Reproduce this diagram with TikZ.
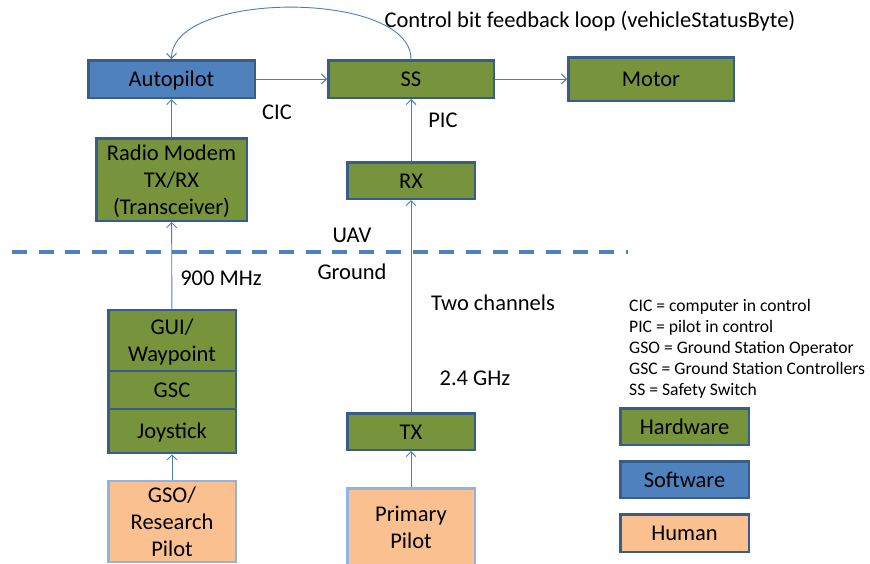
\documentclass[tikz,border=0pt]{standalone}
\usepackage{fontspec}
\setmainfont{Carlito}
\usetikzlibrary{arrows.meta}

\definecolor{hwgreen}{HTML}{77933C}
\definecolor{swblue}{HTML}{4F81BD}
\definecolor{humanorange}{HTML}{FAC090}
\definecolor{edgeblue}{HTML}{385D8A}
\definecolor{paleedge}{HTML}{8EB4E3}
\definecolor{linkblue}{HTML}{4A7EBB}

% struts giving each text block the font's full ascent and descent
\newcommand\asc{\rule{0pt}{21.4pt}}
\newcommand\dsc{\rule[-6.05pt]{0pt}{0pt}}

\tikzset{
  box/.style={draw=edgeblue, line width=2.5pt, inner sep=0pt, align=center,
    font=\fontsize{22.5}{27}\selectfont},
  hw/.style={box, fill=hwgreen},
  sw/.style={box, fill=swblue},
  human/.style={box, fill=humanorange},
  humanpale/.style={human, draw=paleedge},
  conn/.style={draw=linkblue, line width=0.9pt,
    -{Straight Barb[length=5pt,width=10pt,line width=0.9pt]}},
  lbl/.style={inner sep=0pt, font=\fontsize{22.5}{27}\selectfont},
  keytext/.style={inner sep=0pt, align=left, anchor=west,
    font=\fontsize{17.6}{21}\selectfont},
  divider/.style={draw=swblue, line width=3.5pt, dash pattern=on 15pt off 11.7pt}
}

\begin{document}
\begin{tikzpicture}[x=1pt, y=-1pt]
  \useasboundingbox (0,0) rectangle (870,563);
  \fill[white] (0,0) rectangle (870,563);
  \clip (0,0) rectangle (870,563);

  % on-board chain
  \node[sw, minimum width=166.5pt, minimum height=37.5pt] (auto) at (171.5,79) {\asc Autopilot\dsc};
  \node[hw, minimum width=165.5pt, minimum height=37.5pt] (ss) at (411,79) {\asc SS\dsc};
  \node[hw, minimum width=165.5pt, minimum height=43.5pt] (motor) at (651,79) {\asc Motor\dsc};
  \node[hw, minimum width=150.5pt, minimum height=82.5pt] (radio) at (171.5,179.5)
    {\asc Radio Modem\\TX/RX\\(Transceiver)\dsc};
  \node[hw, minimum width=127.5pt, minimum height=36.5pt] (rx) at (411,180.5) {\asc RX\dsc};

  % ground station stack
  \node[hw, minimum width=127.5pt, minimum height=61.5pt] (gui) at (172,340.5) {\asc GUI/\\Waypoint\dsc};
  \node[hw, minimum width=127.5pt, minimum height=38pt] (gsc) at (172,390) {\asc GSC\dsc};
  \node[hw, minimum width=127.5pt, minimum height=44pt] (joy) at (172,431) {\asc Joystick\dsc};
  \node[humanpale, minimum width=127.5pt, minimum height=72.5pt] (gso) at (172,521.5)
    {\asc GSO/\\Research\\Pilot\dsc};

  % manual link
  \node[hw, minimum width=127.5pt, minimum height=36.5pt] (tx) at (411,431.5) {\asc TX\dsc};
  \node[humanpale, minimum width=127.5pt, minimum height=77pt] (prim) at (411,527)
    {\asc Primary\\Pilot\dsc};

  % air/ground boundary
  \coordinate (bl) at (12,252);
  \coordinate (br) at (628,252);
  \draw[divider] (bl) -- (br);

  % connectors
  \draw[conn] (auto) -- (ss);
  \draw[conn] (ss.east) -- (motor.west |- ss.east);
  \draw[conn] (radio) -- (auto);
  \draw[conn] (gui) -- (radio);
  \draw[conn] (gso) -- (joy);
  \draw[conn] (prim) -- (tx);
  \draw[conn] (tx) -- (rx);
  \draw[conn] (rx) -- (ss);
  \draw[conn] (ss.north) .. controls +(0,-69) and +(0,-69) .. (auto.north);

  % labels
  \node[lbl] (fb) at (590,21) {Control bit feedback loop (vehicleStatusByte)};
  \node[lbl] (cic) at (277,112) {CIC};
  \node[lbl] (pic) at (443,120) {PIC};
  \node[lbl] (uav) at (352,235) {UAV};
  \node[lbl] (gnd) at (352,272) {Ground};
  \node[lbl] (mhz) at (221,278) {900 MHz};
  \node[lbl] (two) at (493,303) {Two channels};
  \node[lbl] (ghz) at (475,378) {2.4 GHz};

  % key
  \node[keytext] (abbr) at (629,349) {CIC = computer in control\\PIC = pilot in control\\GSO = Ground Station Operator\\GSC = Ground Station Controllers\\SS = Safety Switch};
  \node[hw, minimum width=128.5pt, minimum height=36.5pt] (khw) at (684.5,426.5) {\asc Hardware\dsc};
  \node[sw, minimum width=128.5pt, minimum height=36.5pt] (ksw) at (684.5,479.5) {\asc Software\dsc};
  \node[human, minimum width=128.5pt, minimum height=37.5pt] (khu) at (684.5,533) {\asc Human\dsc};
\end{tikzpicture}
\end{document}
